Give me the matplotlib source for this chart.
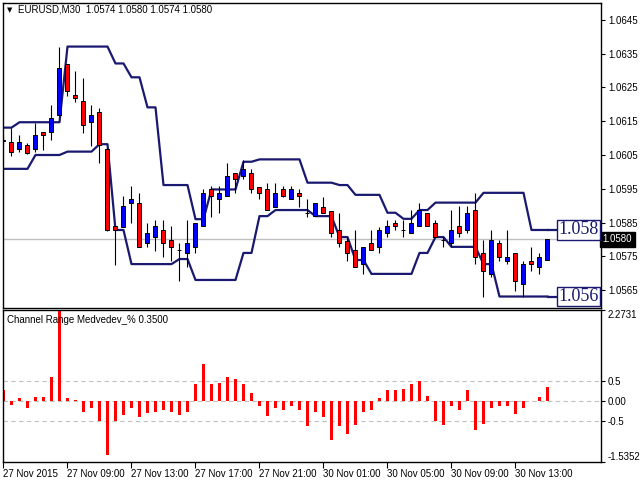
import numpy as np
import matplotlib.pyplot as plt
from matplotlib.transforms import blended_transform_factory

plt.rcParams['font.family'] = ['Liberation Sans', 'DejaVu Sans']

# EURUSD M30 candles, 27 Nov 2015 .. 30 Nov 2015
opens = [1.06094, 1.06088, 1.06067, 1.06080, 1.06067, 1.06117, 1.06117, 1.06168, 1.06318, 1.06228,
         1.06210, 1.06147, 1.06176, 1.06068, 1.05840, 1.05838, 1.05908, 1.05908, 1.05790, 1.05807,
         1.05828, 1.05798, 1.05769, 1.05760, 1.05778, 1.05840, 1.05949, 1.05920, 1.05929, 1.05998,
         1.05988, 1.05998, 1.05956, 1.05949, 1.05897, 1.05949, 1.05920, 1.05938, 1.05879, 1.05869,
         1.05896, 1.05885, 1.05828, 1.05796, 1.05769, 1.05727, 1.05790, 1.05778, 1.05819, 1.05849,
         1.05828, 1.05819, 1.05840, 1.05878, 1.05849, 1.05798, 1.05790, 1.05840, 1.05828, 1.05887,
         1.05760, 1.05698, 1.05790, 1.05736, 1.05760, 1.05668, 1.05736, 1.05718, 1.05740]
highs = [1.06106, 1.06129, 1.06109, 1.06086, 1.06146, 1.06118, 1.06198, 1.06369, 1.06319, 1.06299,
         1.06279, 1.06198, 1.06188, 1.06071, 1.05840, 1.05929, 1.05958, 1.05938, 1.05849, 1.05858,
         1.05858, 1.05840, 1.05790, 1.05858, 1.05849, 1.05949, 1.05958, 1.05958, 1.06026, 1.05998,
         1.06035, 1.06009, 1.05956, 1.05967, 1.05967, 1.05958, 1.05958, 1.05949, 1.05920, 1.05908,
         1.05926, 1.05885, 1.05878, 1.05807, 1.05828, 1.05778, 1.05828, 1.05837, 1.05858, 1.05858,
         1.05858, 1.05887, 1.05908, 1.05878, 1.05858, 1.05807, 1.05887, 1.05899, 1.05899, 1.05938,
         1.05798, 1.05828, 1.05798, 1.05828, 1.05760, 1.05736, 1.05778, 1.05760, 1.05800]
lows = [1.06080, 1.06047, 1.06060, 1.06054, 1.06059, 1.06065, 1.06094, 1.06165, 1.06226, 1.06208,
        1.06116, 1.06078, 1.06027, 1.05826, 1.05724, 1.05838, 1.05849, 1.05778, 1.05778, 1.05766,
        1.05748, 1.05736, 1.05677, 1.05718, 1.05760, 1.05840, 1.05866, 1.05878, 1.05929, 1.05938,
        1.05979, 1.05938, 1.05920, 1.05887, 1.05896, 1.05926, 1.05920, 1.05896, 1.05866, 1.05869,
        1.05878, 1.05807, 1.05778, 1.05736, 1.05718, 1.05698, 1.05769, 1.05760, 1.05807, 1.05828,
        1.05807, 1.05819, 1.05840, 1.05840, 1.05807, 1.05778, 1.05778, 1.05807, 1.05819, 1.05727,
        1.05630, 1.05689, 1.05736, 1.05727, 1.05647, 1.05630, 1.05707, 1.05698, 1.05740]
closes = [1.06092, 1.06058, 1.06088, 1.06057, 1.06109, 1.06109, 1.06159, 1.06307, 1.06239, 1.06218,
          1.06139, 1.06168, 1.06080, 1.05828, 1.05827, 1.05899, 1.05920, 1.05778, 1.05819, 1.05840,
          1.05790, 1.05778, 1.05769, 1.05790, 1.05849, 1.05938, 1.05929, 1.05938, 1.05988, 1.05978,
          1.06009, 1.05949, 1.05938, 1.05887, 1.05938, 1.05929, 1.05949, 1.05929, 1.05879, 1.05908,
          1.05878, 1.05819, 1.05790, 1.05760, 1.05718, 1.05778, 1.05769, 1.05828, 1.05840, 1.05840,
          1.05828, 1.05849, 1.05887, 1.05840, 1.05807, 1.05798, 1.05828, 1.05819, 1.05878, 1.05748,
          1.05707, 1.05798, 1.05748, 1.05748, 1.05677, 1.05727, 1.05727, 1.05748, 1.05800]

# channel lines
upper = [1.06131, 1.06131, 1.06147, 1.06147, 1.06147, 1.06147, 1.06147, 1.06147, 1.06371, 1.06371,
         1.06371, 1.06371, 1.06371, 1.06371, 1.06321, 1.06321, 1.06280, 1.06280, 1.06191, 1.06191,
         1.05961, 1.05961, 1.05961, 1.05961, 1.05860, 1.05860, 1.05948, 1.05948, 1.05948, 1.05948,
         1.06030, 1.06030, 1.06037, 1.06037, 1.06037, 1.06037, 1.06037, 1.06037, 1.05968, 1.05968,
         1.05968, 1.05968, 1.05961, 1.05961, 1.05932, 1.05932, 1.05932, 1.05932, 1.05879, 1.05879,
         1.05861, 1.05861, 1.05887, 1.05887, 1.05909, 1.05909, 1.05909, 1.05909, 1.05909, 1.05909,
         1.05938, 1.05938, 1.05938, 1.05938, 1.05938, 1.05938, 1.05828, 1.05828, 1.05828]
lower = [1.06009, 1.06009, 1.06009, 1.06009, 1.06050, 1.06050, 1.06050, 1.06050, 1.06060, 1.06060,
         1.06060, 1.06060, 1.06082, 1.06082, 1.05828, 1.05828, 1.05727, 1.05727, 1.05727, 1.05727,
         1.05727, 1.05727, 1.05742, 1.05742, 1.05680, 1.05680, 1.05680, 1.05680, 1.05680, 1.05680,
         1.05760, 1.05760, 1.05869, 1.05869, 1.05887, 1.05887, 1.05887, 1.05887, 1.05887, 1.05869,
         1.05869, 1.05869, 1.05807, 1.05807, 1.05739, 1.05739, 1.05698, 1.05698, 1.05698, 1.05698,
         1.05698, 1.05698, 1.05760, 1.05760, 1.05807, 1.05807, 1.05778, 1.05778, 1.05778, 1.05778,
         1.05727, 1.05727, 1.05631, 1.05631, 1.05631, 1.05631, 1.05631, 1.05631, 1.05631]

# Channel Range Medvedev_% histogram
hist = [0.26, -0.10, 0.075, -0.175, 0.10, 0.10, 0.60, 2.2731, 0.075, 0.025,
        -0.27, -0.17, -0.52, -1.37, -0.52, -0.37, -0.17, -0.42, -0.32, -0.27,
        -0.24, -0.29, -0.37, -0.29, 0.425, 0.925, 0.425, 0.45, 0.60, 0.55,
        0.425, 0.20, -0.12, -0.39, -0.19, -0.24, -0.12, -0.24, -0.64, -0.27,
        -0.42, -0.99, -0.64, -0.84, -0.62, -0.29, -0.22, 0.075, 0.275, 0.275,
        0.30, 0.425, 0.49, 0.125, -0.52, -0.62, -0.14, -0.22, 0.275, -0.74,
        -0.59, -0.19, -0.12, -0.12, -0.34, -0.19, -0.01, 0.10, 0.35]
levels = [0.5, 0.0, -0.5]

price_ticks = [1.0565, 1.0575, 1.0585, 1.0595, 1.0605, 1.0615, 1.0625, 1.0635, 1.0645]
time_pos = [0, 8, 16, 24, 32, 40, 48, 56, 64]
time_labels = ['27 Nov 2015', '27 Nov 09:00', '27 Nov 13:00', '27 Nov 17:00', '27 Nov 21:00',
               '30 Nov 01:00', '30 Nov 05:00', '30 Nov 09:00', '30 Nov 13:00']
last_price = closes[-1]

navy = '#191970'
x = np.arange(len(opens))
o = np.array(opens)
c = np.array(closes)

fig = plt.figure(figsize=(6.4, 4.8), dpi=100)
ax = fig.add_axes([3/640, 1-308/480, 598/640, 305/480])
ax2 = fig.add_axes([3/640, 1-462/480, 598/640, 152/480])

# main chart
ax.axhline(last_price, color='#c0c0c0', lw=1, zorder=0)
ax.plot(x, upper, color=navy, lw=1.6, zorder=1)
ax.plot(x, lower, color=navy, lw=1.6, zorder=1)
box_x = 69.35
ax.hlines([upper[-1], lower[-1]], x[-1], box_x, color=navy, lw=1.6, zorder=1)
for val in [upper[-1], lower[-1]]:
    ax.text(box_x, val, '%.3f' % val, fontsize=13, family='Liberation Serif', color=navy,
            ha='left', va='center', zorder=5,
            bbox=dict(boxstyle='square,pad=0.08', fc='white', ec=navy, lw=1))

colors = ['#0000ff' if cc >= oo else '#ff0000' for oo, cc in zip(o, c)]
ax.vlines(x, lows, highs, color='black', lw=0.8, zorder=2)
ax.bar(x, c - o, bottom=o, width=0.5, color=colors, edgecolor='black', linewidth=0.7, zorder=3)

ax.set_xlim(-0.0625, 74.69)
ax.set_ylim(1.05597, 1.06500)
ax.set_xticks([])
ax.yaxis.tick_right()
ax.set_yticks(price_ticks)
ax.set_yticklabels(['%.4f' % p for p in price_ticks])
ax.tick_params(axis='y', direction='out', length=3, width=0.8, labelsize=7, pad=2)
for s in ax.spines.values():
    s.set_linewidth(1)

trans = blended_transform_factory(ax.transAxes, ax.transData)
ax.text(1.003, last_price, '1.0580', transform=trans, fontsize=7, color='white',
        ha='left', va='center', clip_on=False,
        bbox=dict(boxstyle='square,pad=0.25', fc='black', ec='black'))

fig.text(7/640, 1-10/480, '▼', fontsize=5, family='DejaVu Sans', va='center')
fig.text(18/640, 1-10/480, 'EURUSD,M30  1.0574 1.0580 1.0574 1.0580', fontsize=7, va='center')

# indicator window
for lv in levels:
    ax2.axhline(lv, color='#c0c0c0', ls=(0, (4, 3)), lw=0.8, zorder=0)
ax2.bar(x, hist, width=0.4, color='#ff0000', zorder=2)
ax2.set_xlim(-0.0625, 74.69)
ax2.set_ylim(-1.5352, 2.2731)
ax2.yaxis.tick_right()
ax2.set_yticks([2.2731, 0.5, 0.0, -0.5, -1.5352])
ax2.set_yticklabels(['2.2731', '0.5', '0.00', '-0.5', '-1.5352'])
ax2.tick_params(axis='y', direction='out', length=3, width=0.8, labelsize=7, pad=2)
ylbls = ax2.get_yticklabels()
ylbls[0].set_va('top')
ylbls[-1].set_va('bottom')
ax2.set_xticks(time_pos)
ax2.set_xticklabels(time_labels, ha='left')
ax2.tick_params(axis='x', direction='out', length=4, width=0.8, labelsize=7, pad=1)
for s in ax2.spines.values():
    s.set_linewidth(1)

fig.text(7/640, 1-320/480, 'Channel Range Medvedev_% 0.3500', fontsize=7, va='center', zorder=10)

fig.savefig('out.png', dpi=100, facecolor='white')
